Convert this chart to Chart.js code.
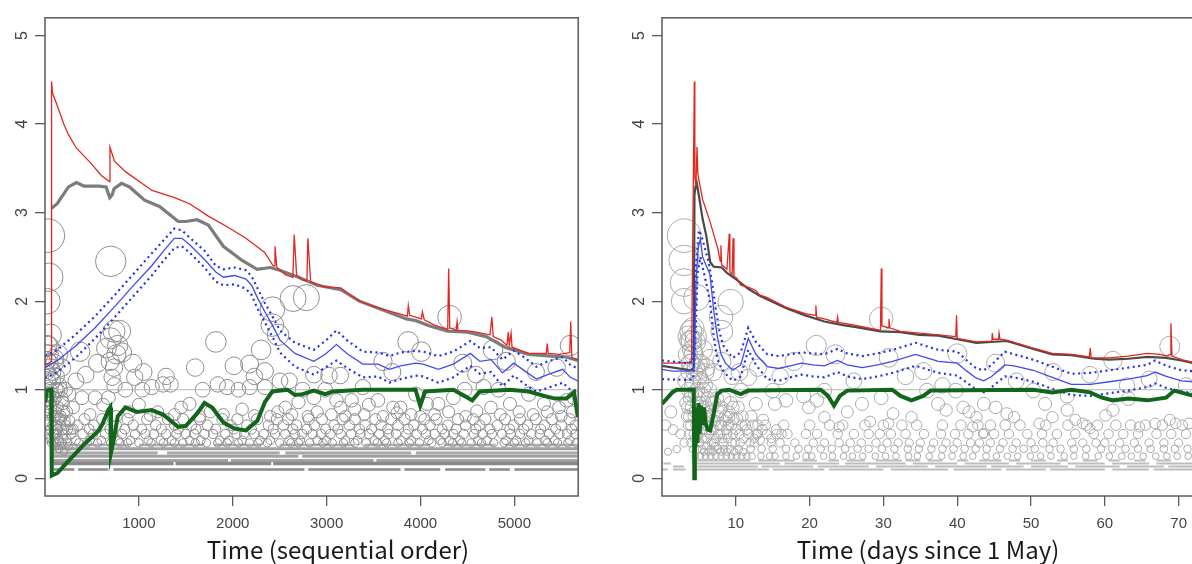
<!DOCTYPE html>
<html><head><meta charset="utf-8">
<script src="https://cdn.jsdelivr.net/npm/chart.js@4.4.0/dist/chart.umd.min.js"></script>
<style>
html,body{margin:0;padding:0;background:#fff;overflow:hidden;width:1192px;height:564px;position:relative;}
canvas{position:absolute;top:0;}
#c1{left:0;}
#c2{left:617px;}
</style></head><body>
<canvas id="c1" width="596" height="564"></canvas>
<canvas id="c2" width="600" height="564"></canvas>
<script>
// ---------- axis ticks ----------
const yTicks = [0,1,2,3,4,5];
const seqTicks = [1000,2000,3000,4000,5000];
const dayTicks = [10,20,30,40,50,60,70];
const refLevel = 1;

// ---------- LEFT PANEL (sequential order) ----------
const seqRed = [[0,1.28],[40,1.3],[66,1.32],[70,4.48],[80,4.35],[130,4.21],[200,4.0],[250,3.88],[334,3.73],[495,3.55],[600,3.42],[687,3.35],[692,3.74],[740,3.58],[860,3.46],[1140,3.25],[1380,3.17],[1540,3.1],[1740,2.96],[1940,2.84],[2140,2.71],[2340,2.55],[2430,2.4],[2440,2.4],[2450,2.62],[2470,2.38],[2560,2.3],[2640,2.27],[2655,2.75],[2680,2.3],[2740,2.24],[2790,2.23],[2800,2.71],[2830,2.22],[2980,2.16],[3150,2.15],[3350,2.0],[3500,1.94],[3700,1.88],[3860,1.83],[3870,1.95],[3885,1.84],[3950,1.82],[4010,1.8],[4020,1.88],[4040,1.79],[4150,1.73],[4290,1.68],[4300,2.37],[4312,1.7],[4380,1.67],[4390,1.77],[4400,1.67],[4550,1.66],[4740,1.62],[4760,1.82],[4775,1.6],[4860,1.56],[4920,1.5],[4935,1.65],[4945,1.5],[4965,1.64],[4975,1.48],[5150,1.41],[5340,1.41],[5350,1.52],[5360,1.41],[5480,1.4],[5590,1.42],[5600,1.77],[5612,1.36],[5676,1.34]];
const seqGray = [[70,3.05],[130,3.1],[250,3.29],[334,3.34],[414,3.3],[574,3.3],[650,3.29],[690,3.17],[715,3.2],[735,3.27],[815,3.33],[900,3.29],[1060,3.14],[1220,3.07],[1420,2.9],[1500,2.9],[1620,2.92],[1740,2.86],[1900,2.62],[2100,2.46],[2260,2.36],[2400,2.38],[2500,2.35],[2700,2.27],[2900,2.18],[3150,2.13],[3350,2.0],[3600,1.9],[3850,1.8],[3950,1.78],[4100,1.72],[4290,1.66],[4500,1.65],[4700,1.6],[4900,1.48],[5150,1.4],[5400,1.38],[5550,1.37],[5676,1.33]];
const seqBlue = [[0,1.25],[133,1.33],[333,1.5],[534,1.7],[735,1.93],[936,2.17],[1137,2.4],[1257,2.56],[1378,2.71],[1458,2.71],[1539,2.64],[1699,2.47],[1820,2.33],[1900,2.27],[2020,2.29],[2141,2.25],[2201,2.18],[2262,2.04],[2342,1.88],[2422,1.73],[2503,1.56],[2663,1.41],[2864,1.32],[2985,1.4],[3105,1.51],[3226,1.4],[3386,1.29],[3547,1.29],[3668,1.23],[3788,1.27],[3949,1.3],[4029,1.29],[4190,1.23],[4350,1.29],[4531,1.41],[4632,1.32],[4752,1.34],[4873,1.19],[4993,1.3],[5114,1.21],[5234,1.12],[5355,1.17],[5515,1.23],[5596,1.14],[5676,1.1]];
const seqBlueHi = [[0,1.38],[133,1.45],[333,1.63],[534,1.83],[735,2.06],[936,2.3],[1137,2.54],[1257,2.68],[1378,2.82],[1458,2.8],[1539,2.72],[1699,2.57],[1820,2.4],[1900,2.36],[2020,2.38],[2141,2.35],[2201,2.28],[2262,2.15],[2342,1.98],[2422,1.83],[2503,1.67],[2663,1.53],[2864,1.45],[2985,1.55],[3105,1.67],[3226,1.55],[3386,1.43],[3547,1.42],[3668,1.38],[3788,1.42],[3949,1.44],[4029,1.43],[4190,1.38],[4350,1.43],[4531,1.55],[4632,1.47],[4752,1.48],[4873,1.34],[4993,1.44],[5114,1.36],[5234,1.26],[5355,1.32],[5515,1.37],[5596,1.28],[5676,1.24]];
const seqBlueLo = [[0,1.13],[133,1.2],[333,1.37],[534,1.58],[735,1.81],[936,2.05],[1137,2.29],[1257,2.45],[1378,2.6],[1458,2.62],[1539,2.55],[1699,2.38],[1820,2.22],[1900,2.18],[2020,2.19],[2141,2.14],[2201,2.07],[2262,1.92],[2342,1.76],[2422,1.6],[2503,1.42],[2663,1.26],[2864,1.17],[2985,1.25],[3105,1.33],[3226,1.24],[3386,1.14],[3547,1.15],[3668,1.08],[3788,1.12],[3949,1.16],[4029,1.15],[4190,1.08],[4350,1.14],[4531,1.27],[4632,1.18],[4752,1.2],[4873,1.04],[4993,1.16],[5114,1.06],[5234,0.98],[5355,1.02],[5515,1.08],[5596,1.0],[5676,0.97]];
const seqGreen = [[0,0.86],[20,0.99],[66,1.0],[72,0.03],[133,0.06],[253,0.2],[414,0.38],[494,0.46],[574,0.54],[615,0.62],[675,0.77],[695,0.8],[703,0.29],[735,0.45],[775,0.7],[856,0.8],[976,0.75],[1137,0.77],[1257,0.72],[1418,0.58],[1498,0.59],[1619,0.73],[1699,0.85],[1780,0.8],[1900,0.63],[2021,0.56],[2141,0.54],[2262,0.65],[2342,0.86],[2422,0.98],[2583,1.0],[2663,0.94],[2744,0.95],[2864,0.99],[2985,0.95],[3065,0.98],[3386,1.0],[3947,1.0],[3997,0.82],[4049,0.98],[4350,1.0],[4471,0.93],[4551,0.88],[4632,0.98],[4953,1.0],[5154,0.98],[5315,0.93],[5435,0.9],[5555,0.9],[5636,0.97],[5676,0.69]];

// observations (x, value) - circles
const seqObsHigh = [[30,2.74],[40,2.27],[25,2.0],[700,2.45],[40,1.49],[60,1.62],[20,1.33],[374,1.43],[434,1.17],[655,1.47],[735,1.66],[795,1.66],[695,1.32],[735,1.25],[775,1.5],[715,1.14],[936,1.3],[956,1.14],[760,1.4],[700,1.58],[820,1.42],[740,1.05],[1820,1.54],[2012,1.27],[2180,1.29],[2302,1.45],[2342,1.21],[2422,1.91],[2643,2.03],[2784,2.04],[2422,1.73],[2483,1.62],[2864,1.17],[3025,1.16],[3145,1.16],[3868,1.54],[4009,1.43],[4310,1.82],[4772,1.45],[5596,1.5],[4913,1.32],[4591,1.17],[1290,1.15],[1600,1.25],[2230,1.15],[3600,1.32],[3700,1.2],[4450,1.3],[5230,1.2],[5450,1.25],[1050,1.2],[560,1.3],[330,1.1],[180,1.25],[100,1.35],[120,1.15]];
const seqObsMid = [[133,0.99],[253,0.95],[394,0.91],[534,0.91],[675,0.91],[856,1.0],[1036,1.0],[1137,1.03],[1257,1.06],[1338,1.06],[1539,0.84],[1679,1.0],[1840,1.06],[1940,1.03],[2061,1.0],[2181,1.03],[2342,1.03],[2503,1.1],[2603,1.1],[2744,1.0],[2864,0.91],[2985,1.0],[3105,0.88],[3266,0.88],[3386,1.03],[3547,0.88],[3708,0.8],[3788,0.8],[3949,0.95],[4069,0.84],[4190,0.84],[4350,0.91],[4471,1.0],[4672,1.03],[4832,1.0],[4953,0.84],[5154,0.95],[5315,0.84],[5475,0.8],[5555,0.88],[5636,0.91],[1200,0.75],[1450,0.8],[2100,0.78],[2900,0.75],[3300,0.78],[3900,0.72],[4600,0.76],[5050,0.75],[620,0.83],[900,0.75],[300,0.8],[200,0.75],[80,1.1],[90,0.9],[60,0.8],[150,1.05],[110,0.7],[2560,0.8],[2700,0.86],[3450,0.83],[3150,0.8],[4300,0.75],[4750,0.8],[5350,0.75],[1760,0.75],[1000,0.83],[2400,0.7],[3600,0.7],[480,0.72],[760,0.7],[1120,0.71],[1380,0.72],[1650,0.7],[1900,0.72],[2230,0.71],[2480,0.75],[2630,0.72],[2800,0.7],[3050,0.72],[3200,0.7],[3400,0.72],[3750,0.74],[4000,0.7],[4150,0.72],[4480,0.7],[4850,0.72],[5200,0.72],[5500,0.7],[5620,0.75]];
const seqObsEdge = [[20,1.5],[40,1.4],[60,1.25],[80,1.2],[30,1.1],[50,1.0],[70,0.95],[100,0.9],[40,0.85],[130,0.8],[60,0.75],[90,0.7],[150,0.67],[30,0.65],[120,0.6],[170,0.6],[60,0.55],[200,0.55],[90,0.5],[140,0.45],[40,0.45],[230,0.45],[180,0.4],[70,0.4],[110,0.36],[250,0.36],[150,0.33],[200,0.3],[20,0.6],[20,0.9],[100,1.3],[140,1.4],[160,1.0],[190,0.85],[230,0.75],[260,0.65],[280,0.55],[10,1.2],[35,0.95],[55,1.15],[75,0.85],[85,0.6],[105,0.75],[115,1.0],[125,0.5],[165,0.7],[175,0.9],[210,0.65],[215,1.0],[240,0.55],[45,1.3],[25,0.75],[15,0.5],[65,0.45],[95,0.4],[135,0.55],[195,0.45]];
const seqObs067 = [170,420,610,880,1090,1310,1470,1650,1890,2050,2260,2470,2590,2810,2950,3170,3300,3520,3690,3830,4040,4170,4400,4560,4690,4900,5060,5230,5400,5590];
const seqObs060 = [220,350,520,760,940,1180,1380,1560,1730,1980,2150,2380,2540,2680,2870,3080,3240,3410,3580,3760,3930,4100,4290,4480,4630,4820,4990,5140,5320,5500,5650];
const seqObs056 = [130,300,470,690,850,1030,1240,1420,1610,1820,2010,2200,2430,2640,2790,2990,3120,3350,3480,3650,3870,4020,4230,4380,4590,4740,4950,5100,5280,5440,5610];
const seqObs050 = [100,190,280,400,510,640,730,820,960,1070,1160,1290,1400,1500,1590,1700,1790,1920,2040,2120,2230,2330,2450,2560,2660,2740,2850,2940,3040,3150,3260,3360,3450,3560,3660,3740,3850,3960,4060,4150,4260,4350,4460,4570,4660,4760,4870,4960,5060,5180,5270,5370,5480,5560,5650];
const seqObs043 = [150,330,480,600,780,910,1100,1230,1350,1540,1660,1860,1960,2100,2290,2400,2600,2720,2900,3000,3200,3330,3510,3620,3790,3900,4090,4210,4310,4420,4610,4710,4910,5020,5150,5330,5430,5590];
const seqObs040 = [120,240,360,450,560,700,800,880,1000,1130,1260,1380,1470,1600,1720,1840,1940,2060,2180,2270,2370,2500,2620,2700,2820,2960,3060,3180,3300,3420,3540,3640,3760,3880,3990,4120,4230,4340,4440,4540,4650,4780,4890,5000,5120,5240,5350,5460,5570,5660];
// dense rows of tiny circles: [from, to] runs
const seqRowLevels = [0.1, 0.167, 0.2, 0.25, 0.286, 0.333, 0.375];
const seqRows = [
  [[92,313],[353,675],[727,2764],[2804,3788],[3828,4210],[4262,4692],[4732,4953],[5001,5676]],
  [[92,1370],[1390,2410],[2430,5676]],
  [[60,1950],[1980,3500],[3530,5676]],
  [[60,2700],[2740,5676]],
  [[60,1200],[1300,2500],[2560,3900],[3950,5676]],
  [[60,5676]],
  [[80,900],[1000,1700],[1800,2300],[2500,3300],[3400,4100],[4250,4800],[4900,5676]]
];

// ---------- RIGHT PANEL (days since 1 May) ----------
const dayRed = [[0,1.3],[2,1.3],[4.0,1.31],[4.38,4.48],[4.45,3.4],[4.6,3.3],[4.74,3.74],[4.85,3.45],[5.0,3.37],[5.5,3.15],[6.54,2.89],[7.57,2.59],[7.9,2.45],[7.98,2.63],[8.08,2.41],[8.8,2.36],[9.11,2.76],[9.2,2.33],[9.5,2.3],[9.63,2.71],[9.75,2.28],[10.14,2.26],[10.66,2.18],[11.69,2.16],[12.72,2.12],[13.23,2.07],[14.26,2.04],[16.84,1.93],[19.41,1.86],[20.8,1.84],[20.85,1.95],[20.95,1.82],[21.99,1.8],[23.7,1.76],[23.79,1.82],[23.9,1.76],[26.1,1.73],[29.6,1.67],[29.71,2.37],[29.8,1.72],[30.7,1.7],[30.75,1.8],[30.85,1.7],[32.29,1.66],[34.86,1.64],[37.44,1.62],[39.8,1.6],[39.91,1.84],[40.0,1.58],[42.59,1.54],[44.7,1.55],[44.75,1.64],[44.85,1.57],[45.6,1.57],[45.67,1.64],[45.8,1.57],[46.7,1.56],[50.31,1.47],[52.88,1.41],[55.46,1.4],[57.9,1.37],[58.03,1.47],[58.15,1.36],[60.61,1.36],[63.18,1.38],[65.76,1.41],[67.5,1.4],[68.33,1.38],[68.9,1.4],[68.95,1.75],[69.1,1.38],[70.39,1.34],[72,1.31]];
const dayGray = [[0,1.27],[3.9,1.22],[4.3,1.25],[4.4,3.2],[4.55,3.3],[4.7,3.34],[5.0,3.19],[5.5,2.93],[6.0,2.74],[6.54,2.44],[7.0,2.39],[8.08,2.38],[8.8,2.32],[10.14,2.24],[11.69,2.14],[13.23,2.06],[16.84,1.92],[19.41,1.84],[21.99,1.77],[24.5,1.73],[26.1,1.71],[29.6,1.66],[32.29,1.65],[34.86,1.62],[37.44,1.61],[40.0,1.57],[42.59,1.53],[46.7,1.55],[50.31,1.46],[52.88,1.4],[55.46,1.39],[58.5,1.35],[60.61,1.34],[63.18,1.35],[65.76,1.37],[68.33,1.36],[70.39,1.33],[72,1.3]];
const dayBlue = [[0,1.23],[1.4,1.21],[3.45,1.21],[4.2,1.22],[4.4,1.25],[4.6,2.2],[4.9,2.6],[5.2,2.7],[5.5,2.5],[6.0,2.4],[6.5,2.3],[7.0,1.9],[7.5,1.6],[8.0,1.4],[8.6,1.3],[9.6,1.22],[10.66,1.28],[11.69,1.58],[12.72,1.4],[14.26,1.26],[15.8,1.24],[17.35,1.27],[18.9,1.3],[20.45,1.28],[21.99,1.27],[23.79,1.33],[25.08,1.28],[27.14,1.25],[29.2,1.28],[31.26,1.32],[34.35,1.4],[35.9,1.36],[37.44,1.32],[40.0,1.3],[41.3,1.21],[42.59,1.13],[43.6,1.1],[44.65,1.15],[46.45,1.28],[47.7,1.27],[50.3,1.22],[52.88,1.14],[55.46,1.06],[58.03,1.06],[60.61,1.09],[63.18,1.12],[65.76,1.16],[66.8,1.2],[68.33,1.15],[70.39,1.1],[72,1.09]];
const dayBlueHi = [[0,1.33],[3.5,1.3],[4.2,1.32],[4.6,2.4],[5.0,2.8],[5.3,2.75],[5.8,2.6],[6.3,2.45],[6.8,2.2],[7.3,1.9],[7.8,1.65],[8.3,1.5],[9.0,1.42],[9.6,1.36],[10.66,1.42],[11.69,1.7],[12.72,1.54],[14.26,1.4],[15.8,1.38],[17.35,1.4],[18.9,1.42],[20.45,1.41],[21.99,1.4],[23.79,1.46],[25.08,1.41],[27.14,1.38],[29.2,1.41],[31.26,1.45],[34.35,1.53],[35.9,1.49],[37.44,1.45],[40.0,1.43],[41.3,1.33],[42.59,1.24],[43.6,1.22],[44.65,1.28],[46.45,1.43],[47.7,1.4],[50.3,1.34],[52.88,1.26],[55.46,1.18],[58.03,1.19],[60.61,1.22],[63.18,1.25],[65.76,1.28],[66.8,1.33],[68.33,1.27],[70.39,1.22],[72,1.21]];
const dayBlueLo = [[0,1.12],[3.5,1.11],[4.2,1.12],[4.5,1.5],[4.8,2.3],[5.2,2.5],[5.6,2.35],[6.0,2.2],[6.5,2.0],[7.0,1.6],[7.5,1.35],[8.0,1.25],[8.6,1.18],[9.6,1.1],[10.66,1.15],[11.69,1.45],[12.72,1.28],[14.26,1.12],[15.8,1.1],[17.35,1.14],[18.9,1.17],[20.45,1.15],[21.99,1.14],[23.79,1.2],[25.08,1.15],[27.14,1.12],[29.2,1.15],[31.26,1.19],[34.35,1.27],[35.9,1.23],[37.44,1.19],[40.0,1.16],[41.3,1.08],[42.59,1.0],[43.6,0.97],[44.65,1.03],[46.45,1.15],[47.7,1.14],[50.3,1.09],[52.88,1.01],[55.46,0.94],[58.03,0.93],[60.61,0.96],[63.18,0.99],[65.76,1.03],[66.8,1.07],[68.33,1.02],[70.39,0.98],[72,0.96]];
const dayGreen = [[0,0.84],[1.4,0.97],[2,1.0],[4.3,1.0],[4.38,0.0],[4.45,0.6],[4.55,0.35],[4.65,0.8],[4.8,0.4],[4.95,0.85],[5.1,0.5],[5.3,0.82],[5.5,0.6],[5.7,0.8],[5.9,0.62],[6.2,0.55],[6.54,0.54],[7.0,0.73],[7.5,0.95],[8.08,0.99],[9.1,1.0],[10.66,0.95],[11.69,0.99],[21.5,1.0],[22.5,0.93],[23.3,0.82],[24.1,0.93],[25.1,0.99],[31.2,1.0],[32.3,0.93],[33.8,0.88],[35.4,0.93],[36.4,0.99],[50.3,1.0],[52.9,0.97],[55.5,1.0],[58.0,0.97],[59.6,0.91],[61.1,0.88],[63.2,0.9],[65.8,0.88],[68.3,0.91],[69.4,0.99],[72,0.93]];

const dayObsHigh = [[3.0,2.74],[3.0,2.46],[3.0,2.21],[3.0,2.0],[3.9,1.66],[9.3,1.99],[8.0,1.82],[4.7,2.04],[4.2,1.69],[4.5,1.54],[8.1,1.66],[8.1,1.32],[11.7,1.14],[17.9,1.32],[20.9,1.5],[23.5,1.4],[29.7,1.8],[30.7,1.36],[35.4,1.21],[40.0,1.41],[45.2,1.3],[68.8,1.49],[58.0,1.17],[61.1,1.33],[3.5,1.4],[4.0,1.3],[5.5,1.45],[6.0,1.25],[6.5,1.35],[7.0,1.2],[5.0,1.15],[3.2,1.1],[9.5,1.15],[10.5,1.2],[13,1.25],[16,1.15],[26,1.1],[33,1.15],[38,1.05],[48,1.1],[53,1.2],[63,1.05],[66,1.12],[71,1.05]];
const dayObsMid = [[15.0,0.99],[15.3,0.84],[19.2,0.93],[21,0.88],[22,0.99],[27.1,0.84],[29.7,0.91],[31.3,0.73],[33.8,0.69],[35.9,0.99],[37.4,0.84],[38.5,0.77],[39.8,0.99],[40.8,0.8],[41.6,0.75],[42.6,0.69],[43.6,0.84],[45.2,0.8],[46.7,0.73],[47.7,0.69],[50.3,0.99],[51.1,0.62],[51.9,0.84],[52.9,0.69],[54.9,0.93],[56,0.66],[57,0.62],[58,0.56],[60.1,0.71],[61.1,0.77],[63.2,0.9],[64.7,0.58],[66.8,0.62],[68.8,0.66],[69.6,0.62],[71.4,0.62],[54.9,0.77],[25.1,0.75],[22,0.69],[19.9,0.8],[16.8,0.88],[13.7,0.66],[12.7,0.84],[10.7,0.99],[9.6,0.8],[9.1,0.69],[28.2,0.64],[24,0.58],[30.7,0.62],[42.1,0.58],[43.6,0.51]];
const dayObsCluster = [[3.6,1.0],[3.8,0.9],[4.0,0.8],[4.1,1.05],[4.3,0.7],[4.5,0.95],[4.6,0.6],[4.7,0.85],[4.9,0.5],[5.0,0.75],[5.2,0.65],[5.3,0.95],[5.5,0.55],[5.6,0.8],[5.8,0.45],[5.9,0.7],[6.1,0.6],[6.2,0.9],[6.4,0.5],[6.5,0.75],[6.7,0.4],[6.8,0.65],[7.0,0.55],[7.1,0.85],[7.3,0.45],[7.5,0.7],[7.7,0.6],[7.9,0.5],[8.1,0.8],[8.3,0.4],[8.5,0.65],[8.7,0.55],[8.9,0.45],[9.1,0.75],[9.4,0.6],[9.6,0.5],[9.9,0.4],[10.2,0.67],[10.5,0.5],[10.8,0.6],[11.1,0.45],[11.5,0.55],[11.9,0.4],[12.3,0.6],[12.8,0.5],[13.3,0.43],[3.7,0.5],[3.9,0.4],[4.2,0.33],[4.4,0.45],[4.8,0.33],[5.1,0.4],[5.4,0.33],[5.7,0.3],[6.0,0.36],[6.3,0.3],[6.6,0.33],[6.9,0.3],[7.2,0.36],[7.6,0.33],[8.0,0.3],[8.4,0.33],[8.8,0.3],[9.2,0.33],[9.8,0.3],[10.4,0.33],[11.0,0.3],[3.4,0.7],[3.3,0.85],[3.6,0.6],[2.5,0.5],[1.5,0.55],[0.8,0.3],[1.2,0.75],[2.0,0.33],[3.0,0.4],[0.5,0.6],[3.7,1.2],[4.1,1.45],[4.4,1.2],[4.9,1.3],[5.3,1.1],[5.8,1.05],[3.8,1.55],[4.6,1.6],[3.5,0.8],[3.7,0.7],[3.9,0.6],[4.0,0.95],[4.2,1.1],[4.3,0.5],[4.5,0.75],[4.7,0.45],[4.8,1.0],[5.0,0.6],[5.1,0.85],[5.2,1.3],[5.4,0.7],[5.5,0.45],[5.6,1.0],[5.8,0.6],[6.0,0.8],[6.1,0.45],[6.3,0.7],[6.4,1.0],[6.6,0.55],[6.8,0.85],[7.0,0.4],[7.2,0.65],[7.4,0.9],[7.6,0.5],[7.8,0.75],[8.0,0.6],[8.2,0.45],[8.4,0.9],[8.6,0.7],[8.8,0.5],[9.0,0.6],[9.3,0.85],[9.5,0.4],[9.7,0.67],[10.0,0.55],[10.3,0.8],[10.6,0.4],[10.9,0.7],[11.3,0.6],[11.7,0.5],[12.1,0.7],[12.5,0.45],[13.0,0.6],[13.6,0.55],[14.2,0.5],[14.8,0.45],[15.5,0.55],[16.2,0.5],[3.8,1.3],[4.3,1.4],[4.6,1.25],[5.9,1.2],[3.6,1.6],[4.0,1.55]];
const dayObs060 = [14,16.5,20,22.7,24.5,27.5,30,32.5,34.5,38,40.5,42.8,44.5,46.5,48.5,52,55,57.5,59,61.5,63.5,65.5,67.8,70.5];
const dayObs050 = [13,15.5,17,19.5,21,23.8,26,28,29.5,31,33,35.5,37.8,39.7,41.5,43.5,45,47,49.5,51.5,53.5,56,58.5,60.5,62.5,64.5,67,69,71];
const dayObs040 = [12.5,14.8,16,18,20.5,22,24,25.5,27,29,30.5,32,33.5,35,36.8,38.5,40,41.8,43,44.5,46.2,48,50,51.6,53,55.5,57,58.8,60,62,64,66,68,70];
const dayObs033 = [12,13.5,15,16.8,18.5,19.8,21.5,23,24.8,26.5,28,29.8,31.5,33.3,34.8,36.5,38,39.5,41,42.5,44,45.8,47.5,49,50.5,52.5,54,55.8,57.5,59.5,61,62.8,64.5,66.2,68,69.5,71.2];
const dayObs025 = [4.5,5.2,5.9,6.6,7.3,8.0,8.7,9.4,10.1,10.8,11.5,12.2,13.4,14.6,15.3,16.8,18.2,19.5,20.3,21.9,23.1,24.6,25.8,27.2,28.9,30.3,31.7,33.4,34.6,36.2,37.9,39.3,40.8,42.1,43.9,45.3,46.8,48.2,49.9,51.3,52.7,54.5,55.8,57.4,59.1,60.6,62.3,63.6,65.2,66.9,68.4,69.8,71.3];
const dayRowLevels = [0.1, 0.133, 0.167, 0.2];
const dayRows = [
  [[0,0.8],[1.5,3.2],[4.2,14.5],[15,22],[22.6,30],[31,38.8],[39.5,46],[46.6,52],[52.6,60],[61,66],[66.6,72]],
  [[1.5,3],[4.2,13],[13.5,20.5],[21.1,28],[29,36],[37,44],[44.6,49],[50,55],[56,62],[63,68],[68.6,72]],
  [[0.2,1.2],[4.3,16],[16.6,24],[24.8,33],[34,40],[41,47],[48,54],[55,60],[61,66],[67,72]],
  [[4.3,12],[13,18],[19,21],[22.5,24],[25,27.5],[29,32.5],[33,35],[36,38],[40,41.5],[43,46],[47,48.5],[50,52],[53.5,55],[57,59],[60.5,62],[64,65.5],[67,69]]
];

// ---------- helpers ----------
const R_BASE = 2, R_PER_UNIT = 5.4; // symbol size style
const xy = a => a.map(p => ({x:p[0], y:p[1]}));
const row = (xs, v) => xs.map(x => [x, v]);
const bub = a => a.map(p => ({x:p[0], y:p[1], r:R_BASE + p[1]*R_PER_UNIT}));
const runs = (segs, v) => { const o=[]; segs.forEach(s=>{o.push({x:s[0],y:v});o.push({x:s[1],y:v});o.push({x:s[1],y:null});}); return o; };

function lineDs(data, color, width, order, dash){
  return {type:'line', data:xy(data), borderColor:color, borderWidth:width, pointRadius:0, tension:0, order:order, borderDash:dash||[], spanGaps:false};
}
function bubbleDs(data, color, order){
  return {type:'bubble', data:bub(data), borderColor:color, backgroundColor:'rgba(0,0,0,0)', borderWidth:1, order:order, hoverRadius:0};
}
function rowDs(segs, v, color, width, order){
  return {type:'line', data:runs(segs, v), borderColor:color, borderWidth:width, pointRadius:0, order:order, spanGaps:false};
}

const framePlugin = {id:'frame', afterDatasetsDraw(chart){
  const {ctx, chartArea:a} = chart; ctx.save(); ctx.strokeStyle='#5a5a5a'; ctx.lineWidth=1.5;
  ctx.strokeRect(a.left, a.top, a.right-a.left, a.bottom-a.top); ctx.restore();
}};
const xTitlePlugin = {id:'xTitle', afterDraw(chart, args, opts){
  const ctx = chart.ctx; ctx.save(); ctx.font = '24px "Noto Sans CJK JP"'; ctx.fillStyle='#1a1a1a';
  ctx.textAlign='center'; ctx.textBaseline='middle'; ctx.fillText(opts.text, opts.x, opts.y); ctx.restore();
}};

function makeChart(el, cfg){
  return new Chart(el, {
    type:'scatter',
    data:{datasets:cfg.datasets},
    options:{
      responsive:false, animation:false, devicePixelRatio:1, events:[],
      layout:{padding:{top:12, right:cfg.padRight, left:0, bottom:0}},
      plugins:{legend:{display:false}, tooltip:{enabled:false}, xTitle:{text:cfg.title, x:cfg.titleX, y:550}},
      scales:{
        x:{type:'linear', min:cfg.xmin, max:cfg.xmax,
           afterBuildTicks:s=>{s.ticks = cfg.xticks.map(v=>({value:v}));},
           afterFit:s=>{s.height=68; s.paddingLeft=0; s.paddingRight=0;},
           grid:{drawOnChartArea:false, drawTicks:true, tickLength:10, color:'#5a5a5a', lineWidth:1.3},
           border:{display:false},
           ticks:{padding:9, color:'#444', font:{family:'Liberation Sans', size:15}, maxRotation:0, autoSkip:false, callback:v=>String(v)}},
        y:{type:'linear', min:-0.2, max:5.2,
           afterBuildTicks:s=>{s.ticks = yTicks.map(v=>({value:v}));},
           afterFit:s=>{s.width=45; s.paddingTop=0; s.paddingBottom=0;},
           grid:{drawOnChartArea:false, drawTicks:true, tickLength:10, color:'#5a5a5a', lineWidth:1.3},
           border:{display:false},
           ticks:{padding:8, color:'#444', font:{family:'Liberation Sans', size:16}, minRotation:90, maxRotation:90, crossAlign:'center', autoSkip:false, callback:v=>String(v)}}
      }
    },
    plugins:[framePlugin, xTitlePlugin]
  });
}

// LEFT
const leftCircle = '#8e8e8e';
const leftSets = [
  lineDs(seqGreen, '#12661a', 4, 1),
  lineDs(seqBlue, '#3d4cf2', 1.3, 2),
  lineDs(seqBlueHi, '#2331e8', 2.2, 3, [2,3.5]),
  lineDs(seqBlueLo, '#2331e8', 2.2, 3, [2,3.5]),
  lineDs(seqRed, '#e3261f', 1.3, 4),
  lineDs(seqGray, '#7c7c7c', 3.2, 5),
  lineDs([[0,refLevel],[5680,refLevel]], '#b5b5b5', 1, 6),
  bubbleDs(seqObsHigh.concat(seqObsMid, seqObsEdge), leftCircle, 7),
  bubbleDs(row(seqObs067,0.667).concat(row(seqObs060,0.6), row(seqObs056,0.556), row(seqObs050,0.5), row(seqObs043,0.429), row(seqObs040,0.4)), leftCircle, 8)
];
const leftRowW = [2.5, 3.5, 3, 3, 3, 3, 2.5];
const leftRowC = ['#8a8a8a','#8a8a8a','#a2a2a2','#a2a2a2','#a8a8a8','#a2a2a2','#b0b0b0'];
seqRows.forEach((segs,i)=>leftSets.push(rowDs(segs, seqRowLevels[i], leftRowC[i], leftRowW[i], 9)));
makeChart(document.getElementById('c1'), {datasets:leftSets, xmin:0, xmax:5680, xticks:seqTicks, padRight:10.3, title:'Time (sequential order)', titleX:338});

// RIGHT
const rightCircle = '#ababab';
const rightSets = [
  lineDs(dayGreen, '#12661a', 4, 1),
  lineDs(dayBlue, '#3d4cf2', 1.3, 2),
  lineDs(dayBlueHi, '#2331e8', 2.2, 3, [2,3.5]),
  lineDs(dayBlueLo, '#2331e8', 2.2, 3, [2,3.5]),
  lineDs(dayRed, '#e3261f', 1.3, 4),
  lineDs(dayGray, '#4a4a4a', 2.2, 5),
  lineDs([[0,refLevel],[72,refLevel]], '#b5b5b5', 1, 6),
  bubbleDs(dayObsHigh.concat(dayObsMid, dayObsCluster), rightCircle, 7),
  bubbleDs(row(dayObs060,0.6).concat(row(dayObs050,0.5), row(dayObs040,0.4), row(dayObs033,0.333), row(dayObs025,0.25)), rightCircle, 8)
];
const rightRowW = [2, 2, 2, 2];
dayRows.forEach((segs,i)=>rightSets.push(rowDs(segs, dayRowLevels[i], '#bdbdbd', rightRowW[i], 9)));
makeChart(document.getElementById('c2'), {datasets:rightSets, xmin:0, xmax:72, xticks:dayTicks, padRight:23.6, title:'Time (days since 1 May)', titleX:311});
</script>
</body></html>
